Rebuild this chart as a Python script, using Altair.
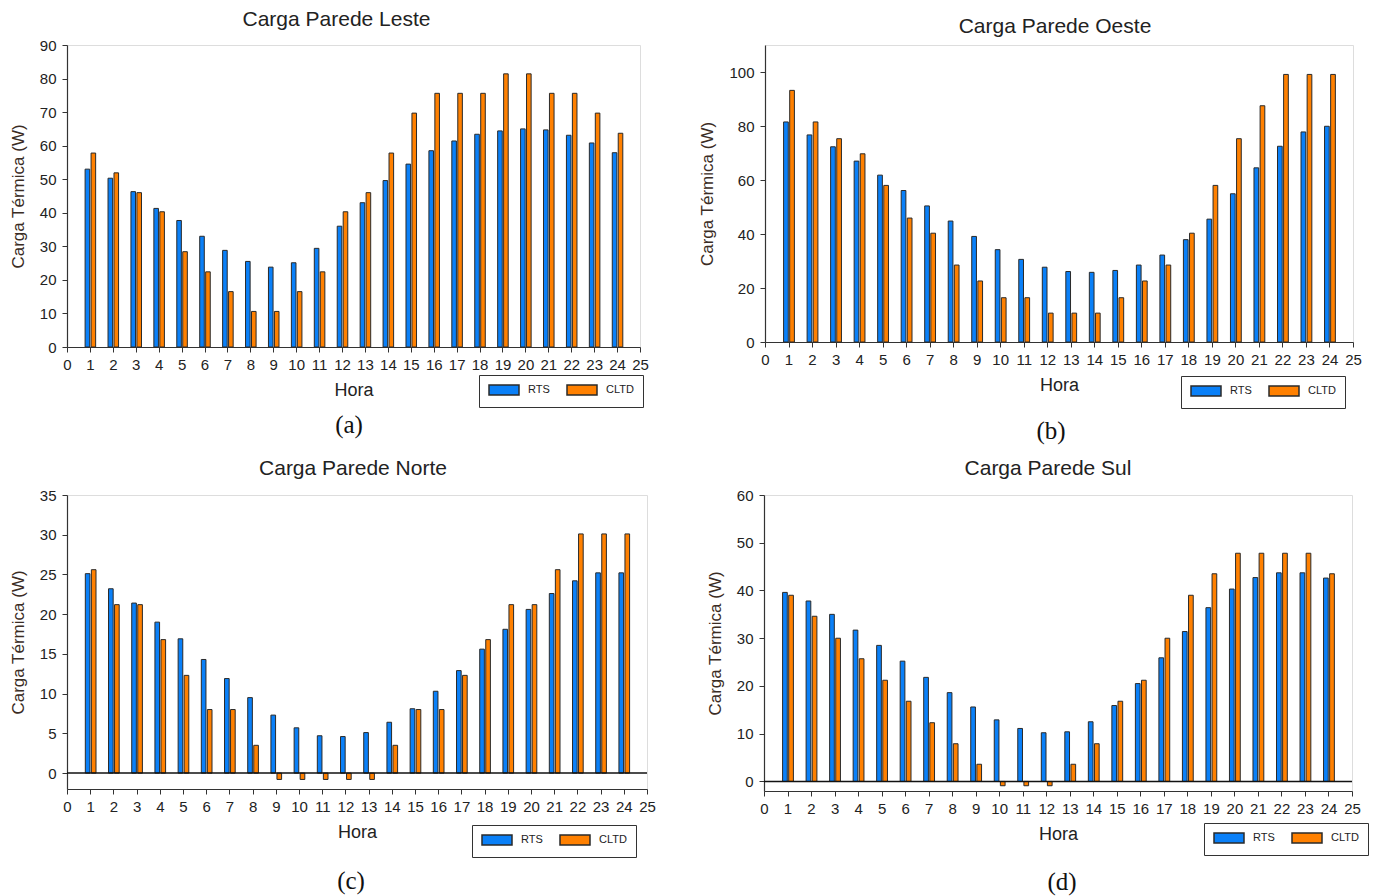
import altair as alt
import pandas as pd

hours = list(range(1, 25))
series = ["RTS", "CLTD"]
colors = ["#0a80f8", "#ff8000"]

leste_rts = [53.0, 50.3, 46.3, 41.3, 37.7, 33.0, 28.8, 25.5, 23.8, 25.1, 29.4, 36.0,
             43.0, 49.6, 54.5, 58.5, 61.4, 63.4, 64.4, 65.0, 64.7, 63.1, 60.8, 57.9]
leste_cltd = [57.8, 51.9, 46.0, 40.3, 28.4, 22.4, 16.5, 10.6, 10.6, 16.5, 22.4, 40.3,
              46.0, 57.8, 69.7, 75.6, 75.6, 75.6, 81.4, 81.4, 75.6, 75.6, 69.7, 63.7]

oeste_rts = [81.5, 76.7, 72.3, 67.0, 61.8, 56.1, 50.4, 44.8, 39.1, 34.2, 30.6, 27.7,
             26.1, 25.8, 26.5, 28.5, 32.2, 37.9, 45.5, 54.9, 64.5, 72.5, 77.8, 79.9]
oeste_cltd = [93.2, 81.5, 75.3, 69.7, 58.0, 45.9, 40.3, 28.5, 22.6, 16.4, 16.4, 10.7,
              10.7, 10.7, 16.4, 22.6, 28.5, 40.3, 58.0, 75.3, 87.5, 99.1, 99.1, 99.1]

norte_rts = [25.1, 23.2, 21.4, 19.0, 16.9, 14.3, 11.9, 9.5, 7.3, 5.7, 4.7, 4.6,
             5.1, 6.4, 8.1, 10.3, 12.9, 15.6, 18.1, 20.6, 22.6, 24.2, 25.2, 25.2]
norte_cltd = [25.6, 21.2, 21.2, 16.8, 12.3, 8.0, 8.0, 3.5, -0.8, -0.8, -0.8, -0.8,
              -0.8, 3.5, 8.0, 8.0, 12.3, 16.8, 21.2, 21.2, 25.6, 30.1, 30.1, 30.1]

sul_rts = [39.6, 37.8, 35.0, 31.7, 28.5, 25.2, 21.8, 18.6, 15.6, 12.9, 11.1, 10.2,
           10.4, 12.5, 15.9, 20.5, 25.9, 31.4, 36.4, 40.3, 42.7, 43.7, 43.7, 42.6]
sul_cltd = [39.0, 34.6, 30.0, 25.7, 21.2, 16.8, 12.3, 7.9, 3.6, -0.9, -0.9, -0.9,
            3.6, 7.9, 16.8, 21.2, 30.0, 39.0, 43.5, 47.8, 47.8, 47.8, 47.8, 43.5]

SANS = "Liberation Sans, Arial, sans-serif"
SERIF = "Liberation Serif, Times New Roman, serif"
# wide legend swatch: 30 x 10 px, drawn to the right of the nominal 10 px symbol box
RECT = "M-1,-1H5V1H-1Z"


def panel(title, rts, cltd, ydom, yticks, w, h, tag, tagpos, legpos, zero_line,
          toff, tdx):
    df = pd.DataFrame({
        "Hora": hours * 2,
        "Serie": ["RTS"] * 24 + ["CLTD"] * 24,
        "Valor": rts + cltd,
    })
    bars = alt.Chart(df).transform_calculate(
        x0="datum.Serie == 'RTS' ? datum.Hora - 0.21 : datum.Hora + 0.05",
        x1="datum.Serie == 'RTS' ? datum.Hora - 0.01 : datum.Hora + 0.25",
        base="0",
    ).mark_bar(stroke="#2a2a2a", strokeWidth=1, opacity=1).encode(
        x=alt.X("x0:Q",
                scale=alt.Scale(domain=[0, 25], nice=False, zero=False),
                axis=alt.Axis(values=list(range(26)), title="Hora", grid=False,
                              labelFont=SANS, labelFontSize=15, labelColor="#222",
                              labelFlush=False, labelOverlap=False, labelPadding=5,
                              tickSize=5, tickColor="#333", domainColor="#333",
                              domainWidth=1.2, titleFont=SANS, titleFontSize=18,
                              titleFontWeight="normal", titleColor="#222",
                              titlePadding=9, format="d")),
        x2="x1:Q",
        y=alt.Y("Valor:Q",
                scale=alt.Scale(domain=ydom, nice=False, zero=False),
                axis=alt.Axis(values=yticks, title="Carga Térmica (W)", grid=False,
                              labelFont=SANS, labelFontSize=15, labelColor="#222",
                              labelPadding=6, tickSize=5, tickColor="#333",
                              domainColor="#333", domainWidth=1.2,
                              titleFont=SANS, titleFontSize=17,
                              titleFontWeight="normal", titleColor="#3a2c24",
                              titlePadding=12)),
        y2="base:Q",
        color=alt.Color("Serie:N",
                        scale=alt.Scale(domain=series, range=colors),
                        legend=alt.Legend(title=None, orient="none",
                                          legendX=legpos[0], legendY=legpos[1],
                                          direction="horizontal",
                                          symbolType=RECT, symbolSize=100,
                                          symbolStrokeColor="#2a2a2a",
                                          symbolStrokeWidth=1.5, symbolOpacity=1,
                                          labelFont=SANS, labelFontSize=11,
                                          labelColor="#222", labelOffset=28,
                                          columnPadding=14,
                                          strokeColor="#333", padding=9,
                                          fillColor="white")),
    )
    layers = [bars]
    if zero_line:
        layers.append(
            alt.Chart(pd.DataFrame({"z": [0]})).mark_rule(
                color="#111", strokeWidth=1.5).encode(y="z:Q"))
    tag_df = pd.DataFrame({"t": [tag]})
    layers.append(
        alt.Chart(tag_df).mark_text(font=SERIF, fontSize=25, color="#111",
                                    align="center", baseline="middle").encode(
            text="t:N", x=alt.value(tagpos[0]), y=alt.value(tagpos[1])))
    return alt.layer(*layers).properties(
        width=w, height=h,
        title=alt.Title(title, font=SANS, fontSize=21, fontWeight="normal",
                        color="#222", offset=toff, dx=tdx),
    )


pa = panel("Carga Parede Leste", leste_rts, leste_cltd, [0, 90], list(range(0, 91, 10)),
           573, 302, "(a)", (282, 380), (412, 330), False, 8, -17)
pb = panel("Carga Parede Oeste", oeste_rts, oeste_cltd, [0, 110], list(range(0, 101, 20)),
           588, 297, "(b)", (286, 386), (416, 331), False, 8, -4)
pc = panel("Carga Parede Norte", norte_rts, norte_cltd, [-2, 35], list(range(0, 36, 5)),
           580, 294, "(c)", (284, 386), (405, 330), True, 9, -4)
pd_ = panel("Carga Parede Sul", sul_rts, sul_cltd, [-2, 60], list(range(0, 61, 10)),
            588, 296, "(d)", (298, 387), (440, 328), True, 9, -10)

row1 = alt.hconcat(pa, pb, spacing=49).resolve_scale(color="independent")
row2 = alt.hconcat(pc, pd_, spacing=49).resolve_scale(color="independent")

chart = alt.vconcat(row1, row2, spacing=12).resolve_scale(
    color="independent"
).properties(
    padding={"left": 0, "top": 0, "right": 2, "bottom": 0}
).configure_view(stroke="#555", strokeWidth=1.2).configure(background="white")

chart.save("out.html", embed_options={"renderer": "svg", "actions": False})
